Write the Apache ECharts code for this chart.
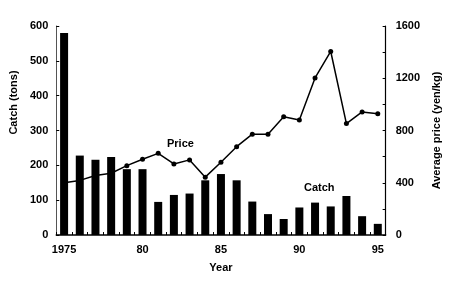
<!DOCTYPE html>
<html><head><meta charset="utf-8">
<script src="https://cdn.jsdelivr.net/npm/echarts@6/dist/echarts.min.js"></script>
<style>html,body{margin:0;padding:0;background:#fff}#c{width:450px;height:286px}</style>
</head><body><div id="c"></div>
<script>
const years = ['1975','1976','1977','1978','1979','1980','1981','1982','1983','1984','1985','1986','1987','1988','1989','1990','1991','1992','1993','1994','1995'];
const xTickLabels = {'1975':'1975','1980':'80','1985':'85','1990':'90','1995':'95'};
const catchTons = [580,228,216,224,189,189,95,115,119,157,175,157,96,60,46,79,93,82,112,54,32];
const priceYenKg = [400,418,456,473,531,580,625,544,575,443,557,676,772,772,906,881,1202,1405,853,942,929];
const leftTicks = [0,100,200,300,400,500,600];
const rightTickLabels = [0,400,800,1200,1600];

const font = 'Liberation Sans, Arial, sans-serif';
const chart = echarts.init(document.getElementById('c'));
chart.setOption({
  backgroundColor:'#fff',
  animation:false,
  grid:{left:50,right:58,top:26,bottom:51},
  xAxis:{type:'category',data:years,boundaryGap:true,
    name:'Year',nameLocation:'middle',nameGap:27,
    nameTextStyle:{fontFamily:font,fontWeight:'bold',fontSize:11,color:'#000'},
    axisLine:{lineStyle:{color:'#000',width:1.5}},
    axisTick:{show:true,inside:true,length:3,interval:0,lineStyle:{color:'#000'}},
    axisLabel:{interval:0,margin:9,fontFamily:font,fontWeight:'bold',fontSize:11,color:'#000',
      formatter:v=>xTickLabels[v]||''}},
  yAxis:[
    {type:'value',min:0,max:600,interval:100,
     name:'Catch (tons)',nameLocation:'middle',nameGap:35,nameRotate:90,
     nameTextStyle:{fontFamily:font,fontSize:11,color:'#000',fontWeight:'bold',padding:[0,0,0,56]},
     axisLine:{show:true,lineStyle:{color:'#555',width:1}},
     axisTick:{show:true,inside:true,length:3,lineStyle:{color:'#000'}},
     splitLine:{show:false},
     axisLabel:{margin:8,fontFamily:font,fontWeight:'bold',fontSize:11,color:'#000',
       formatter:v=>leftTicks.includes(v)?String(v):''}},
    {type:'value',min:0,max:1600,interval:200,position:'right',
     name:'Average price (yen/kg)',nameLocation:'middle',nameGap:38,nameRotate:90,
     nameTextStyle:{fontFamily:font,fontSize:11,color:'#000',fontWeight:'bold'},
     axisLine:{show:true,lineStyle:{color:'#000',width:1.2}},
     axisTick:{show:true,inside:true,length:3,lineStyle:{color:'#000'}},
     splitLine:{show:false},
     axisLabel:{margin:10,fontFamily:font,fontWeight:'bold',fontSize:11,color:'#000',
       formatter:v=>rightTickLabels.includes(v)?String(v):''}}
  ],
  series:[
    {type:'line',yAxisIndex:1,data:priceYenKg,z:1,
     symbol:'circle',symbolSize:5,
     lineStyle:{color:'#000',width:1.5},itemStyle:{color:'#000'}},
    {type:'bar',yAxisIndex:0,data:catchTons,barWidth:8,z:2,
     itemStyle:{color:'#000'}}
  ],
  graphic:[
    {type:'text',left:167,top:138,style:{text:'Price',font:'bold 11px '+font,fill:'#000'}},
    {type:'text',left:304,top:182,style:{text:'Catch',font:'bold 11px '+font,fill:'#000'}}
  ]
});
</script></body></html>
